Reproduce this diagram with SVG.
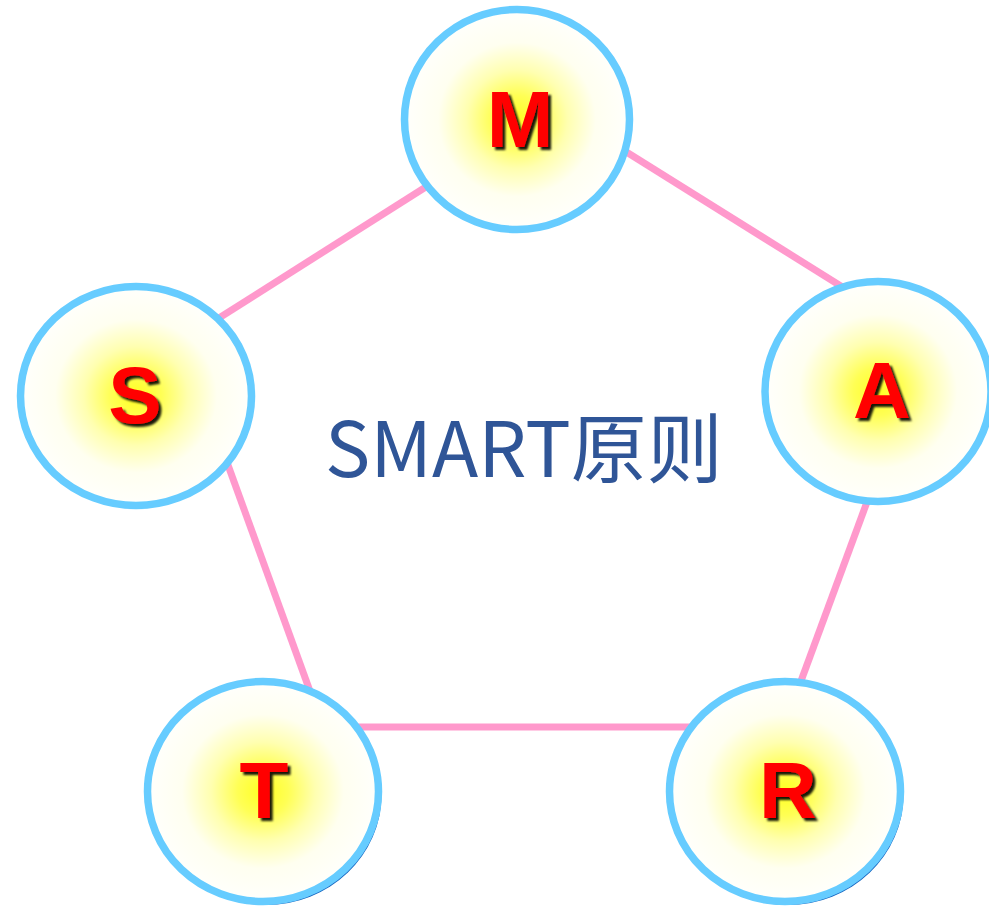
<svg xmlns="http://www.w3.org/2000/svg" width="989" height="906" viewBox="0 0 989 906">
<defs>
<radialGradient id="glow" cx="50%" cy="50%" r="50%">
<stop offset="0" stop-color="#ffff22"/>
<stop offset="0.22" stop-color="#ffff55"/>
<stop offset="0.45" stop-color="#ffffb0"/>
<stop offset="0.7" stop-color="#fffff0"/>
<stop offset="1" stop-color="#fffffc"/>
</radialGradient>
<filter id="sh" x="-30%" y="-30%" width="160%" height="160%">
<feDropShadow dx="3" dy="3" stdDeviation="1.2" flood-color="#000" flood-opacity="0.9"/>
</filter>
<style>
.link{stroke:#ff99cc;stroke-width:7;fill:none}
.node{fill:url(#glow);stroke:#66ccff;stroke-width:7.5}
.base{fill:#1565c0}
.lbl{font-family:"Liberation Sans",Arial,sans-serif;font-weight:bold;font-size:80px;fill:#ff0000;text-anchor:middle;filter:url(#sh)}
.title{font-family:"Noto Sans CJK SC","Noto Sans",sans-serif;font-size:76px;fill:#2f5597}
</style>
</defs>
<rect width="989" height="906" fill="#ffffff"/>
<g id="connectors">
<line class="link" x1="200" y1="330" x2="440" y2="178"/>
<line class="link" x1="612" y1="143" x2="860" y2="298"/>
<line class="link" x1="874" y1="483" x2="794" y2="700"/>
<line class="link" x1="220" y1="443" x2="315" y2="705"/>
<line class="link" x1="330" y1="727" x2="710" y2="727"/>
</g>
<g id="node-M">
<ellipse class="node" cx="517" cy="119.5" rx="112.5" ry="110"/>
<text class="lbl" x="520" y="147">M</text>
</g>
<g id="node-A">
<ellipse class="node" cx="878" cy="391.5" rx="113" ry="110"/>
<text class="lbl" x="882" y="418">A</text>
</g>
<g id="node-R">
<ellipse class="base" cx="788" cy="795" rx="115.5" ry="110"/>
<ellipse class="node" cx="785" cy="791.5" rx="115.5" ry="110"/>
<text class="lbl" x="788" y="818">R</text>
</g>
<g id="node-T">
<ellipse class="base" cx="266" cy="795" rx="115.5" ry="110"/>
<ellipse class="node" cx="263" cy="791.5" rx="115.5" ry="110"/>
<text class="lbl" x="264" y="818">T</text>
</g>
<g id="node-S">
<ellipse class="node" cx="136" cy="396" rx="115.5" ry="109.5"/>
<text class="lbl" x="135" y="423">S</text>
</g>
<g id="title">
<text class="title" x="325" y="477">SMART原则</text>
</g>
</svg>
